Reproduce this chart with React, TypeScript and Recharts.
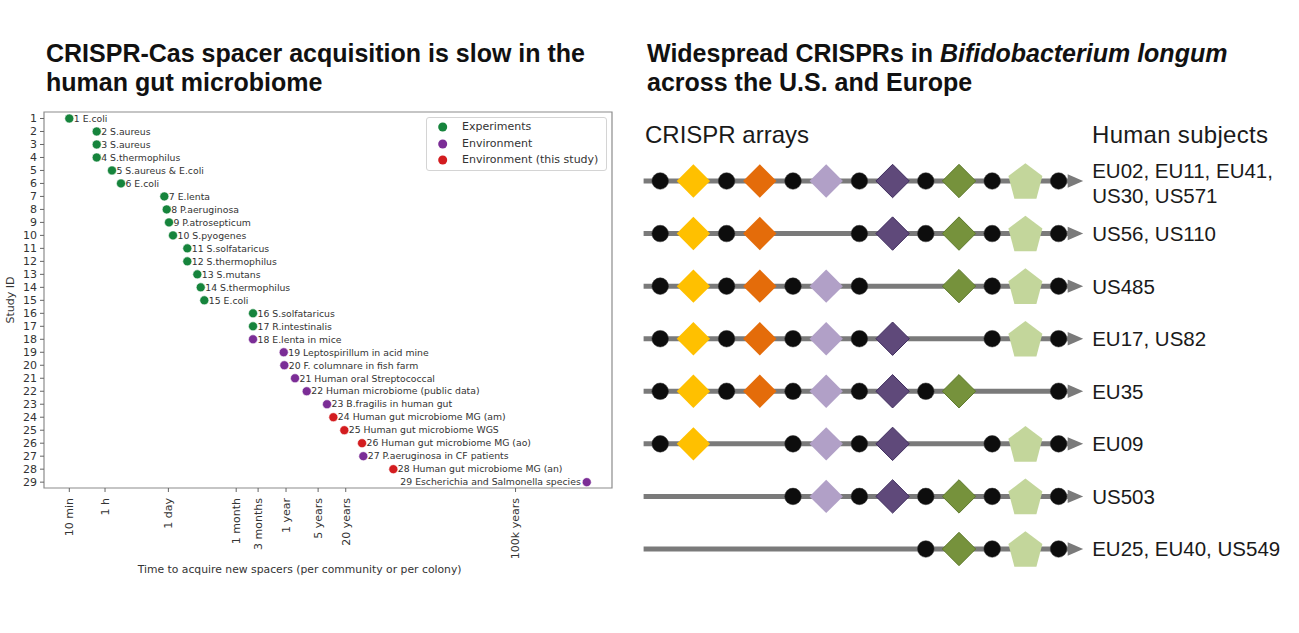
import React from 'react';
import { ScatterChart, Scatter, XAxis, YAxis, ReferenceArea, Legend } from 'recharts';

// ---------------- Left panel data ----------------
const studyIds = [1, 2, 3, 4, 5, 6, 7, 8, 9, 10, 11, 12, 13, 14, 15, 16, 17, 18, 19, 20, 21, 22, 23, 24, 25, 26, 27, 28, 29];
const studyNames = [
  'E.coli', 'S.aureus', 'S.aureus', 'S.thermophilus', 'S.aureus & E.coli', 'E.coli', 'E.lenta',
  'P.aeruginosa', 'P.atrosepticum', 'S.pyogenes', 'S.solfataricus', 'S.thermophilus', 'S.mutans',
  'S.thermophilus', 'E.coli', 'S.solfataricus', 'R.intestinalis', 'E.lenta in mice',
  'Leptospirillum in acid mine', 'F. columnare in fish farm', 'Human oral Streptococcal',
  'Human microbiome (public data)', 'B.fragilis in human gut', 'Human gut microbiome MG (am)',
  'Human gut microbiome WGS', 'Human gut microbiome MG (ao)', 'P.aeruginosa in CF patients',
  'Human gut microbiome MG (an)', 'Escherichia and Salmonella species',
];
// time to acquire new spacers, log10(seconds)
const studyLog10Seconds = [
  2.778, 3.375, 3.375, 3.375, 3.708, 3.904, 4.848, 4.9, 4.95, 5.037, 5.349, 5.349, 5.567, 5.641,
  5.719, 6.78, 6.78, 6.78, 7.449, 7.462, 7.695, 7.95, 8.392, 8.53, 8.769, 9.155, 9.183, 9.837, 14.05,
];
const studyCategory = [
  'exp', 'exp', 'exp', 'exp', 'exp', 'exp', 'exp', 'exp', 'exp', 'exp', 'exp', 'exp', 'exp', 'exp',
  'exp', 'exp', 'exp', 'env', 'env', 'env', 'env', 'env', 'env', 'this', 'this', 'this', 'env', 'this', 'env',
];
const labelLeftStudies = [29];

const categoryKeys = ['exp', 'env', 'this'];
const categoryNames = ['Experiments', 'Environment', 'Environment (this study)'];
const categoryColors = ['#16843c', '#7b2d96', '#d31c1f'];

const timeTickSeconds = [600, 3600, 86400, 2592000, 7776000, 31557600, 157788000, 631152000, 3.15576e12];
const timeTickLabels = ['10 min', '1 h', '1 day', '1 month', '3 months', '1 year', '5 years', '20 years', '100k years'];
const timeTickLogs = timeTickSeconds.map((s) => Math.log10(s));

// ---------------- Right panel data ----------------
const subjectGroups = [
  ['EU02, EU11, EU41,', 'US30, US571'],
  ['US56, US110'],
  ['US485'],
  ['EU17, US82'],
  ['EU35'],
  ['EU09'],
  ['US503'],
  ['EU25, EU40, US549'],
];
// R = repeat, - = missing, letters = spacers
const arrayLayouts = [
  'RYRORLRDRGRPR',
  'RYRO--RDRGRPR',
  'RYRORLR--GRPR',
  'RYRORLRD--RPR',
  'RYRORLRDRG--R',
  'RY--RLRD--RPR',
  '----RLRDRGRPR',
  '--------RGRPR',
];
const spacerColors: Record<string, string> = {
  Y: '#FFC000',
  O: '#E46C0A',
  L: '#B1A0C7',
  D: '#5F497A',
  G: '#76923C',
  P: '#C3D69B',
};
const spacerStrokes: Record<string, string> = {
  Y: 'none',
  O: 'none',
  L: 'none',
  D: '#3F2D5E',
  G: '#5E7A2C',
  P: 'none',
};
const lineStartSlot = -0.5;
const lineEndSlot = 12.3;
const arrowTipSlot = 12.74;

const studyData = studyIds.map((id, i) => ({
  x: studyLog10Seconds[i],
  y: id,
  label: `${id} ${studyNames[i]}`,
  cat: studyCategory[i],
  left: labelLeftStudies.includes(id),
}));

const elementData: { x: number; y: number; kind: string }[] = [];
arrayLayouts.forEach((row, r) => {
  row.split('').forEach((k, slot) => {
    if (k !== '-') elementData.push({ x: slot, y: r, kind: k });
  });
});
const arrowData = subjectGroups.map((lines, r) => ({ x: arrowTipSlot, y: r, lines }));

const DEJAVU = "'DejaVu Sans', sans-serif";
const HELV = "'Liberation Sans', Arial, sans-serif";

const PointShape = (props: any) => {
  const { cx, cy, payload, fill } = props;
  const left = payload.left;
  return (
    <g>
      <circle cx={cx} cy={cy} r={4.5} fill={fill} stroke="#ffffff" strokeWidth={0.6} />
      <text
        x={left ? cx - 6 : cx + 4.5}
        y={cy}
        dy="0.35em"
        textAnchor={left ? 'end' : 'start'}
        fontSize={9.3}
        fill="#333"
        fontFamily={DEJAVU}
      >
        {payload.label}
      </text>
    </g>
  );
};

const XTick = (props: any) => {
  const { x, y, index } = props;
  return (
    <text
      x={x}
      y={y + 4}
      dy="0.35em"
      transform={`rotate(-90, ${x}, ${y + 4})`}
      textAnchor="end"
      fontSize={11}
      fill="#333"
      fontFamily={DEJAVU}
    >
      {timeTickLabels[index]}
    </text>
  );
};

const LegendBox = () => {
  return (
    <div
      style={{
        width: 181,
        height: 54,
        boxSizing: 'border-box',
        border: '1px solid #d4d4d4',
        borderRadius: 3,
        background: 'rgba(255,255,255,0.85)',
        position: 'relative',
        fontFamily: DEJAVU,
        fontSize: 11,
        color: '#333',
      }}
    >
      {categoryNames.map((name, i) => (
        <div key={name} style={{ position: 'absolute', left: 0, top: 1 + i * 16.7, height: 16, width: '100%' }}>
          <svg width={24} height={16} style={{ position: 'absolute', left: 4, top: 0 }}>
            <circle cx={11.7} cy={8} r={4.5} fill={categoryColors[i]} />
          </svg>
          <span style={{ position: 'absolute', left: 35, top: 0, lineHeight: '16px', whiteSpace: 'nowrap' }}>{name}</span>
        </div>
      ))}
    </div>
  );
};

const ElementShape = (props: any) => {
  const { cx, cy, payload } = props;
  const k = payload.kind;
  if (k === 'R') {
    return <circle cx={cx} cy={cy} r={8.3} fill="#0d0d0d" stroke="#333" strokeWidth={0.5} />;
  }
  if (k === 'P') {
    const pts = [
      [0, -17.8],
      [17, -5],
      [11, 17.8],
      [-11, 17.8],
      [-17, -5],
    ]
      .map(([dx, dy]) => `${cx + dx},${cy + dy}`)
      .join(' ');
    return <polygon points={pts} fill={spacerColors.P} />;
  }
  const h = 16.7;
  const pts = `${cx},${cy - h} ${cx + h},${cy} ${cx},${cy + h} ${cx - h},${cy}`;
  return <polygon points={pts} fill={spacerColors[k]} stroke={spacerStrokes[k]} strokeWidth={1} />;
};

const ArrowShape = (props: any) => {
  const { cx, cy, payload } = props;
  const lines: string[] = payload.lines;
  return (
    <g>
      <polygon points={`${cx},${cy} ${cx - 15.5},${cy - 6.7} ${cx - 15.5},${cy + 6.7}`} fill="#7a7a7a" />
      {lines.map((t, i) => (
        <text
          key={i}
          x={cx + 9}
          y={lines.length > 1 ? cy - 2.7 + i * 24.4 : cy + 7.5}
          fontSize={20.5}
          fill="#1a1a1a"
          fontFamily={HELV}
        >
          {t}
        </text>
      ))}
    </g>
  );
};

const Empty = () => <g />;

export default function App() {
  return (
    <div style={{ position: 'absolute', left: 0, top: 0, width: 1299, height: 633, background: '#fff', overflow: 'hidden' }}>
      <div style={{ position: 'absolute', left: 0, top: 0, fontFamily: DEJAVU }}>
        <ScatterChart width={640} height={633} margin={{ top: 112, right: 28, bottom: 85, left: 10 }}>
          <XAxis
            type="number"
            dataKey="x"
            domain={[2.227, 14.6]}
            ticks={timeTickLogs}
            interval={0}
            tick={<XTick />}
            tickSize={4}
            tickLine={{ stroke: '#666' }}
            axisLine={false}
            height={60}
            label={(p: any) => {
              const vb = p.viewBox || { x: 44, y: 488, width: 568 };
              return (
                <text x={vb.x + vb.width * 0.45} y={vb.y + 85} textAnchor="middle" fontSize={10.8} fill="#333" fontFamily={DEJAVU}>
                  Time to acquire new spacers (per community or per colony)
                </text>
              );
            }}
          />
          <YAxis
            type="number"
            dataKey="y"
            domain={[0.5, 29.45]}
            reversed
            ticks={studyIds}
            interval={0}
            width={34}
            tickSize={4}
            tickMargin={3}
            axisLine={false}
            tickLine={{ stroke: '#666' }}
            tick={{ fontSize: 11, fill: '#333', fontFamily: DEJAVU }}
            label={(p: any) => {
              const vb = p.viewBox || { x: 10, y: 112, height: 376 };
              const cy = vb.y + vb.height / 2;
              return (
                <text x={vb.x} y={cy} dy="0.35em" transform={`rotate(-90, ${vb.x}, ${cy})`} textAnchor="middle" fontSize={11} fill="#333" fontFamily={DEJAVU}>
                  Study ID
                </text>
              );
            }}
          />
          <ReferenceArea x1={2.227} x2={14.6} y1={0.5} y2={29.45} fill="none" stroke="#8c8c8c" strokeWidth={1.2} ifOverflow="visible" />
          {categoryKeys.map((key, i) => (
            <Scatter
              key={key}
              name={categoryNames[i]}
              data={studyData.filter((d) => d.cat === key)}
              fill={categoryColors[i]}
              shape={PointShape}
              isAnimationActive={false}
            />
          ))}
          <Legend
            layout="vertical"
            align="center"
            verticalAlign="middle"
            wrapperStyle={{ left: 426, top: 117, width: 181, height: 54 }}
            content={LegendBox}
          />
        </ScatterChart>
      </div>

      <div style={{ position: 'absolute', left: 620, top: 0 }}>
        <ScatterChart width={679} height={633} margin={{ top: 128.43, right: 174, bottom: 31.44, left: 7 }}>
          <XAxis type="number" dataKey="x" domain={[-1, 14]} hide />
          <YAxis type="number" dataKey="y" domain={[-1, 8]} reversed hide />
          {arrayLayouts.map((_, r) => (
            <Scatter
              key={`line-${r}`}
              data={[
                { x: lineStartSlot, y: r },
                { x: lineEndSlot, y: r },
              ]}
              line={{ stroke: '#7a7a7a', strokeWidth: 5 }}
              shape={Empty}
              isAnimationActive={false}
            />
          ))}
          <Scatter data={elementData} shape={ElementShape} isAnimationActive={false} />
          <Scatter data={arrowData} shape={ArrowShape} isAnimationActive={false} />
        </ScatterChart>
      </div>

      <svg width={1299} height={633} style={{ position: 'absolute', left: 0, top: 0, pointerEvents: 'none' }}>
        <g fontFamily={HELV} fontWeight="bold" fontSize={25} fill="#111">
          <text x={46} y={62}>CRISPR-Cas spacer acquisition is slow in the</text>
          <text x={46} y={91}>human gut microbiome</text>
          <text x={647} y={62}>
            Widespread CRISPRs in <tspan fontStyle="italic">Bifidobacterium longum</tspan>
          </text>
          <text x={647} y={91}>across the U.S. and Europe</text>
        </g>
        <g fontFamily={HELV} fontSize={24} fill="#1a1a1a">
          <text x={645} y={143}>CRISPR arrays</text>
          <text x={1092} y={143} letterSpacing={0.3}>Human subjects</text>
        </g>
      </svg>
    </div>
  );
}
